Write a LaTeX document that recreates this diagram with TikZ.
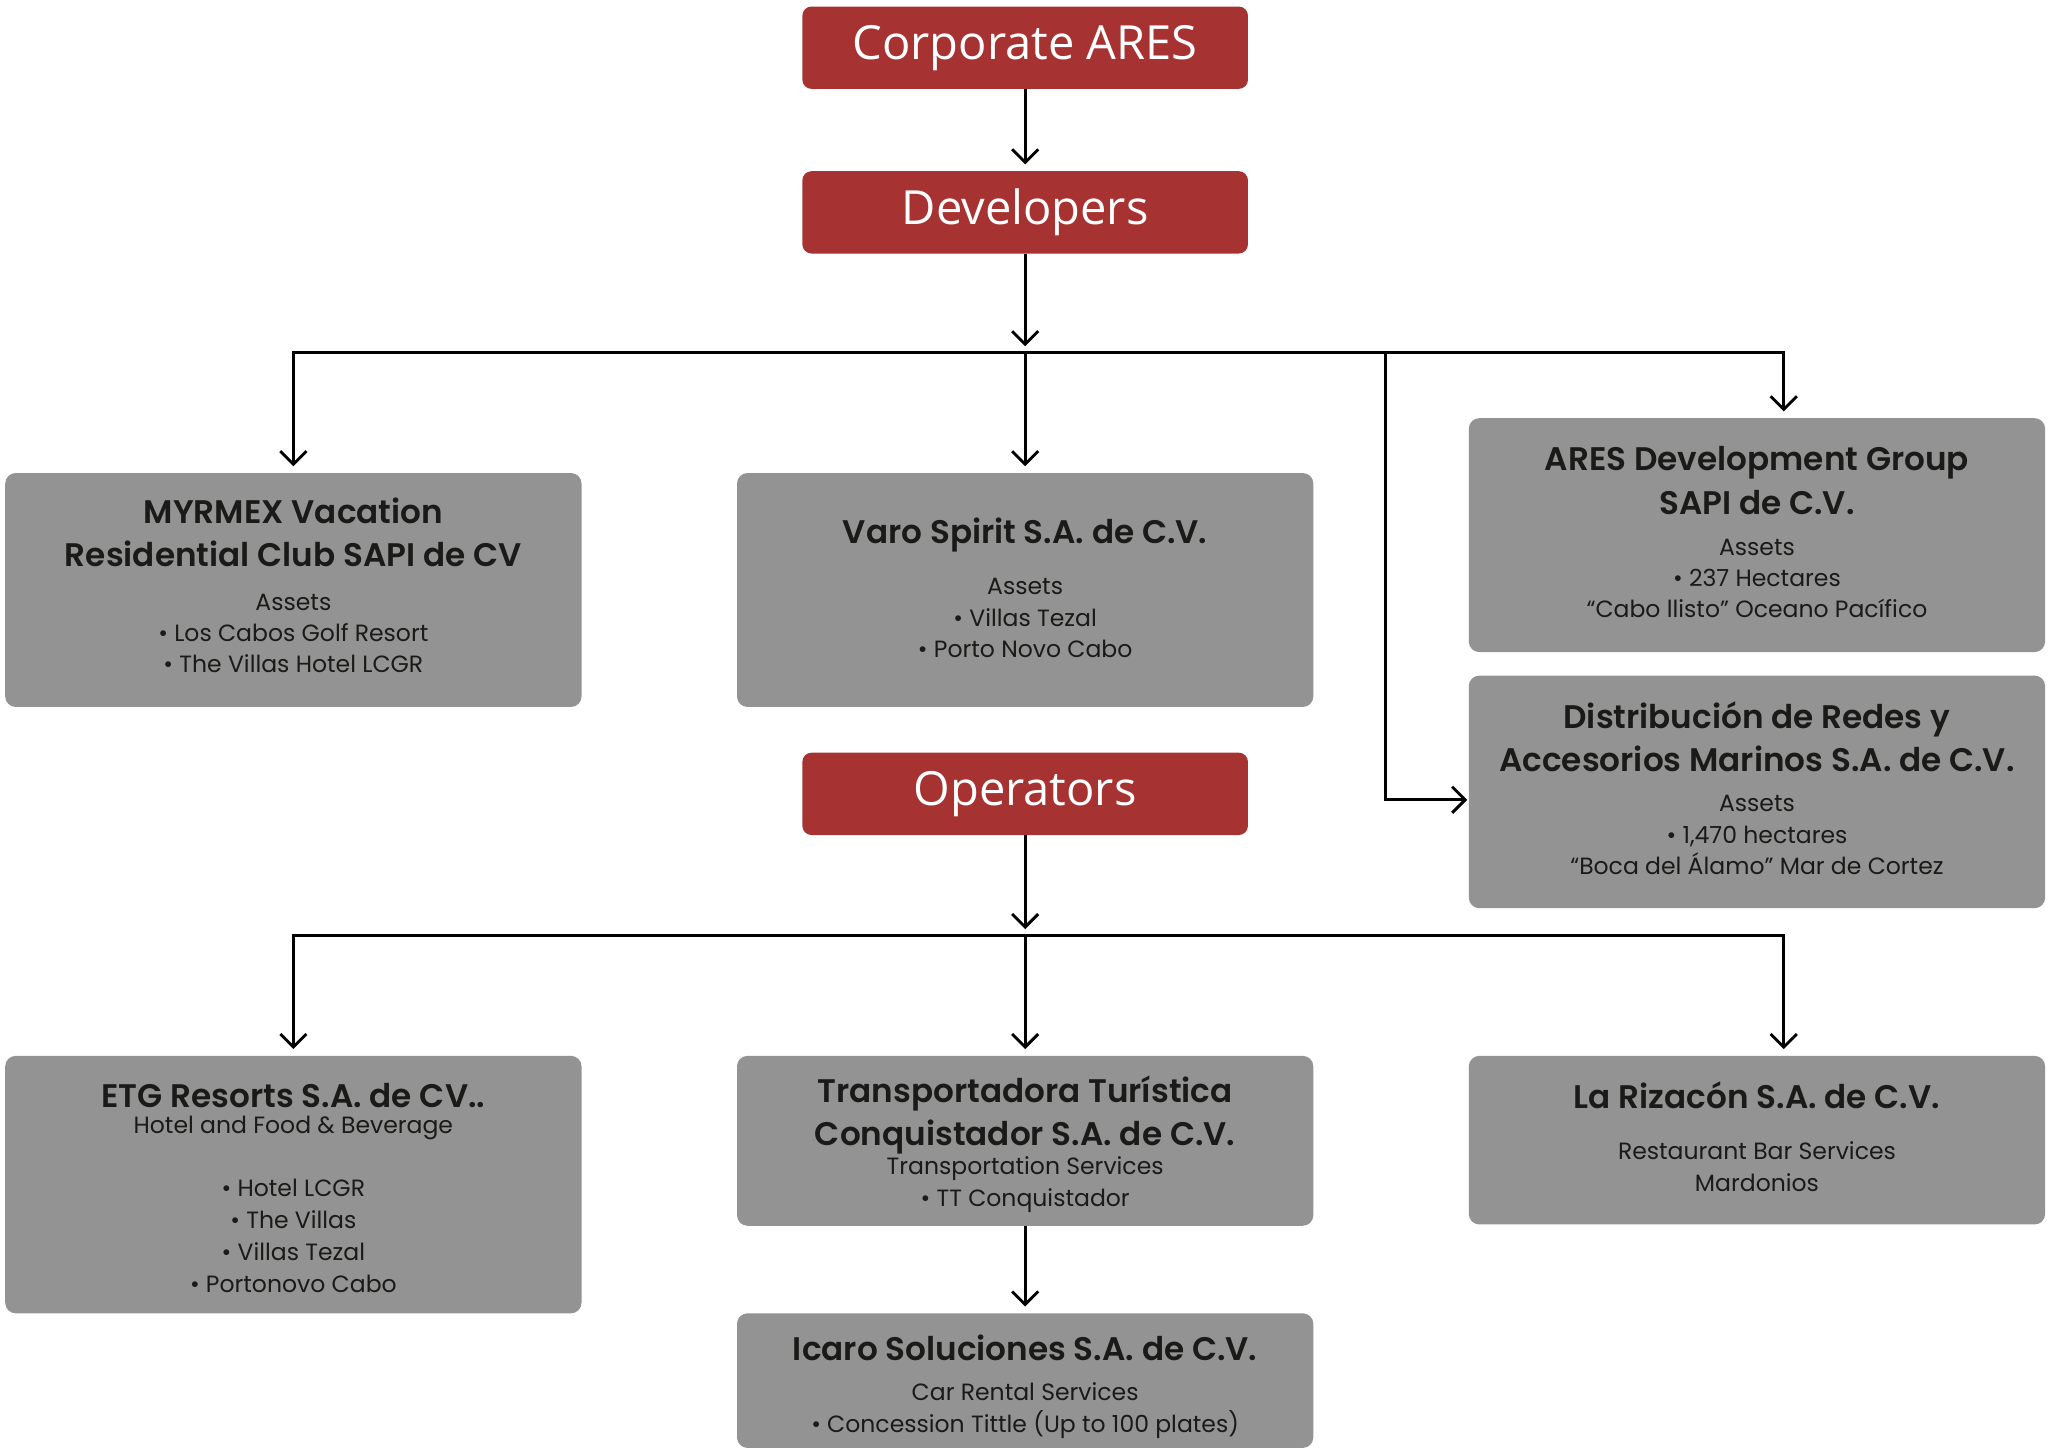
\documentclass[tikz,border=0pt]{standalone}
\usepackage{fontspec}
\setmainfont{Poppins}[BoldFont={Poppins SemiBold}]
\newfontfamily\headfont{Open Sans}
\usetikzlibrary{arrows.meta,positioning}

\definecolor{aresred}{RGB}{166,50,50}
\definecolor{boxgray}{RGB}{147,147,147}
\definecolor{inkdark}{RGB}{26,26,24}

\newcommand{\ttl}[1]{{\fontsize{25}{33}\selectfont\bfseries #1}}

\begin{document}
\begin{tikzpicture}[x=1pt,y=-1pt,>={Straight Barb[length=10pt,width=20pt]}]
	\tikzstyle{head}=[rectangle, rounded corners=7pt, fill=aresred, text=white, minimum width=341pt, minimum height=63pt, font=\headfont\fontsize{36}{40}\selectfont]
	\tikzstyle{company}=[rectangle, rounded corners=8pt, fill=boxgray, text=inkdark, minimum width=441pt, align=center, text depth=0pt, font=\fontsize{18}{24}\selectfont]
	\tikzstyle{link}=[->, black, line width=2.2pt, shorten >=5pt]

	\useasboundingbox (0,0) rectangle (1568,1112);

	% developers
	\node [head] (corp) at (784.5,36.5) {Corporate ARES};
	\node [head] (dev) [below of=corp, node distance=126pt] {Developers};
	\node [company, minimum height=179pt, text depth=7pt] (myrmex) at (224.5,451.5) {\ttl{MYRMEX Vacation}\\[9pt]\ttl{Residential Club SAPI de CV}\\[9pt]Assets\\\textbullet{} Los Cabos Golf Resort\\\textbullet{} The Villas Hotel LCGR};
	\node [company, minimum height=179pt, text depth=4pt] (varo) at (784.5,451.5) {\ttl{Varo Spirit S.A. de C.V.}\\[15.5pt]Assets\\\textbullet{} Villas Tezal\\\textbullet{} Porto Novo Cabo};
	\node [company, minimum height=179pt, text depth=5pt] (aresdg) at (1344.5,409.5) {\ttl{ARES Development Group}\\[8pt]\ttl{SAPI de C.V.}\\[7pt]Assets\\\textbullet{} 237 Hectares\\“Cabo llisto” Oceano Pacífico};
	\node [company, minimum height=178pt, text depth=6pt] (distrib) at (1344.5,606) {\ttl{Distribución de Redes y}\\[6pt]\ttl{Accesorios Marinos S.A. de C.V.}\\[7pt]Assets\\\textbullet{} 1,470 hectares\\“Boca del Álamo” Mar de Cortez};

	% operators
	\node [head] (ops) at (784.5,607.5) {Operators};
	\node [company, minimum height=197pt] (etg) at (224.5,906.5) {\ttl{\rule{0pt}{24pt}ETG Resorts S.A. de CV..}\\[-4pt]Hotel and Food \& Beverage\\[24pt]\textbullet{} Hotel LCGR\\[0.5pt]\textbullet{} The Villas\\[0.5pt]\textbullet{} Villas Tezal\\[0.5pt]\textbullet{} Portonovo Cabo};
	\node [company, minimum height=130pt] (ttc) at (784.5,873) {\ttl{Transportadora Turística}\\[6pt]\ttl{Conquistador S.A. de C.V.}\\[-1.5pt]Transportation Services\\\textbullet{} TT Conquistador};
	\node [company, minimum height=129pt, text depth=6pt] (riza) at (1344.5,872.5) {\ttl{La Rizacón S.A. de C.V.}\\[15.5pt]Restaurant Bar Services\\Mardonios};
	\node [company, minimum height=103pt] (icaro) at (784.5,1056.5) {\ttl{\rule{0pt}{24pt}Icaro Soluciones S.A. de C.V.}\\[7pt]Car Rental Services\\\textbullet{} Concession Tittle (Up to 100 plates)};

	\coordinate (devbus) at (784.5,270);
	\coordinate (dsplit) at (1060,270);
	\coordinate (opsbus) at (784.5,716);

	\draw [link] (corp) -- (dev);
	\draw [link] (dev) -- (devbus);
	\draw [link] (devbus) -| (myrmex);
	\draw [link] (devbus) -- (varo);
	\draw [link] (devbus) -| ([xshift=20.5pt]aresdg.north);
	\draw [link, shorten >=1pt] (dsplit) |- ([yshift=-6pt]distrib.west);

	\draw [link] (ops) -- (opsbus);
	\draw [link] (opsbus) -| (etg);
	\draw [link] (opsbus) -- (ttc);
	\draw [link] (opsbus) -| ([xshift=20.5pt]riza.north);
	\draw [link] (ttc) -- (icaro);
\end{tikzpicture}
\end{document}
